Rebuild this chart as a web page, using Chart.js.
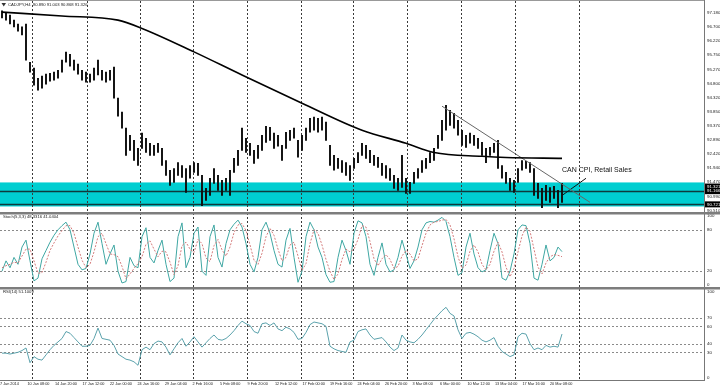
<!DOCTYPE html>
<html>
<head>
<meta charset="utf-8">
<script src="https://cdn.jsdelivr.net/npm/chart.js@4.4.1/dist/chart.umd.min.js"></script>
<style>
  html, body { margin: 0; padding: 0; background: #fff; }
</style>
</head>
<body>
<canvas id="c" width="720" height="388"></canvas>
<script>
// CADJPY H4 - price bars, 200 MA, support zone, Stoch and RSI panes

const symbolTitle = 'CADJPY,H4  90.890 91.003 90.868 91.326';
const stochTitle = 'Stoch(5,3,3) 48.3316 41.0404';
const rsiTitle = 'RSI(14) 51.1009';
const newsLabel = 'CAN CPI, Retail Sales';

const timeLabels = ['7 Jan 2014', '10 Jan 08:00', '14 Jan 20:00', '17 Jan 12:00', '22 Jan 00:00',
  '24 Jan 16:00', '29 Jan 04:00', '2 Feb 16:00', '5 Feb 08:00', '9 Feb 20:00', '12 Feb 12:00',
  '17 Feb 00:00', '19 Feb 16:00', '24 Feb 04:00', '26 Feb 20:00', '3 Mar 08:00', '6 Mar 00:00',
  '10 Mar 12:00', '13 Mar 04:00', '17 Mar 16:00', '20 Mar 08:00'];

const priceTicks = ['97.180', '96.700', '96.220', '95.750', '95.270', '94.800', '94.320', '93.850',
  '93.370', '92.890', '92.420', '91.940', '91.470', '90.990', '90.510'];
const priceMarks = ['91.321', '91.166', '90.721'];

const barHighs = [
  97.24, 97.17, 97.10, 96.93, 96.80, 96.70, 96.80, 95.51, 95.31, 94.97,
  95.04, 95.11, 95.14, 95.18, 95.24, 95.58, 95.85, 95.78, 95.58, 95.45,
  95.24, 95.18, 95.11, 95.31, 95.58, 95.24, 95.18, 95.24, 95.35, 94.30,
  93.83, 93.29, 93.05, 92.88, 92.61, 93.12, 92.95, 92.78, 92.71, 92.78,
  92.61, 92.20, 91.87, 91.93, 92.13, 92.03, 91.93, 92.03, 92.13, 92.10,
  91.70, 91.26, 91.60, 91.93, 91.70, 91.53, 91.60, 91.87, 92.27, 92.54,
  93.29, 92.95, 92.78, 92.54, 92.71, 93.05, 93.35, 93.32, 93.12, 93.05,
  92.71, 93.15, 93.22, 93.29, 92.88, 93.05, 93.29, 93.62, 93.66, 93.62,
  93.66, 93.49, 92.71, 92.37, 92.27, 92.20, 92.13, 92.03, 92.27, 92.47,
  92.78, 92.71, 92.54, 92.37, 92.31, 92.10, 92.03, 91.93, 91.70, 91.60,
  92.37, 91.60, 91.46, 91.80, 91.93, 92.20, 92.27, 92.47, 92.61, 93.05,
  93.55, 94.06, 93.89, 93.79, 93.55, 93.22, 93.05, 93.12, 93.05, 92.95,
  92.81, 92.61, 92.64, 92.78, 92.88, 92.03, 91.80, 91.60, 91.53, 91.93,
  92.20, 92.17, 92.13, 91.93, 91.43, 91.26, 91.36, 91.29, 91.33, 91.19,
  91.43
];
const barLows = [
  97.00, 96.93, 96.80, 96.70, 96.56, 96.43, 95.58, 95.18, 94.74, 94.57,
  94.64, 94.77, 94.87, 94.91, 94.97, 95.18, 95.51, 95.38, 95.24, 95.11,
  94.91, 94.84, 94.84, 94.91, 95.08, 94.91, 94.84, 94.91, 94.30, 93.69,
  93.29, 92.37, 92.54, 92.20, 92.03, 92.61, 92.47, 92.37, 92.37, 92.47,
  92.03, 91.70, 91.36, 91.46, 91.70, 91.63, 91.12, 91.60, 91.80, 91.70,
  90.68, 90.85, 91.02, 91.43, 91.19, 91.02, 91.19, 91.02, 91.80, 92.03,
  92.54, 92.47, 92.37, 92.10, 92.27, 92.54, 92.81, 92.88, 92.61, 92.68,
  92.20, 92.61, 92.88, 92.95, 92.31, 92.54, 92.88, 93.15, 93.22, 93.15,
  93.22, 92.88, 92.03, 91.87, 91.93, 91.80, 91.70, 91.53, 91.93, 92.13,
  92.37, 92.27, 92.13, 92.03, 91.97, 91.70, 91.60, 91.53, 91.26, 91.19,
  91.29, 91.09, 91.09, 91.43, 91.60, 91.80, 91.93, 92.13, 92.20, 92.61,
  92.88, 93.22, 93.38, 93.29, 93.05, 92.71, 92.64, 92.78, 92.71, 92.61,
  92.37, 92.13, 92.37, 92.47, 91.93, 91.60, 91.43, 91.19, 91.12, 91.46,
  91.87, 91.93, 91.80, 91.02, 90.92, 90.61, 90.85, 90.79, 90.92, 90.61,
  90.79
];

// moving average read at a few bars
const maIndex = [0, 15, 29, 35, 48, 60, 75, 90, 101, 108, 120, 126, 140];
const maValues = [97.20, 97.07, 96.93, 96.65, 95.86, 95.08, 94.13, 93.22, 92.78, 92.47, 92.34, 92.30, 92.27];

const trendIndex = [110, 147];
const trendValues = [94.03, 90.79];
const newsIndex = [140, 146];
const newsValues = [91.02, 91.60];

const zoneTop = 91.46;
const zoneBottom = 90.65;
const zoneLines = [91.166, 90.721];

const stochMain = [
  20, 35, 25, 40, 30, 55, 65, 35, 6, 10,
  38, 50, 62, 72, 80, 86, 91, 80, 55, 30,
  22, 24, 45, 75, 91, 60, 30, 45, 58, 20,
  3, 5, 40, 28, 25, 70, 83, 40, 32, 50,
  65, 30, 5, 10, 70, 90, 25, 40, 75, 84,
  20, 14, 70, 87, 40, 26, 60, 80, 88, 94,
  84, 60, 30, 19, 40, 80, 91, 75, 50, 30,
  26, 65, 82, 40, 4, 20, 70, 91, 80, 55,
  40, 15, 4, 5, 40, 65, 50, 30, 75, 93,
  90, 70, 30, 14, 40, 61, 30, 19, 22, 40,
  65, 45, 24, 35, 55, 80, 90, 92, 91, 94,
  98, 92, 70, 40, 14, 18, 55, 75, 45, 25,
  19, 22, 50, 75, 60, 10, 7, 20, 45, 80,
  87, 86, 60, 10, 7, 30, 58, 35, 40, 55,
  48.33
];
const stochSignal = [
  25, 28, 30, 33, 32, 42, 52, 52, 35, 17,
  18, 33, 50, 61, 71, 79, 86, 86, 75, 55,
  36, 25, 30, 48, 70, 75, 60, 45, 44, 41,
  27, 9, 16, 24, 31, 41, 59, 64, 52, 41,
  49, 48, 33, 15, 28, 57, 62, 52, 47, 66,
  60, 39, 34, 57, 66, 51, 42, 55, 76, 87,
  89, 79, 58, 36, 30, 46, 70, 82, 72, 52,
  35, 40, 58, 62, 42, 21, 31, 60, 80, 75,
  58, 37, 20, 8, 16, 37, 52, 48, 52, 66,
  86, 84, 63, 38, 28, 38, 44, 37, 24, 27,
  42, 50, 45, 35, 38, 57, 75, 87, 91, 92,
  94, 95, 87, 67, 41, 24, 29, 49, 58, 48,
  30, 22, 30, 49, 62, 48, 26, 12, 24, 48,
  71, 84, 78, 52, 26, 16, 32, 41, 44, 43,
  41.04
];
const stochLevels = [20, 80];
const stochTicks = [0, 20, 80, 100];

const rsiValues = [
  29, 29, 28, 29, 30, 32, 35, 18, 25, 22,
  21, 27, 33, 38, 42, 46, 54, 52, 47, 42,
  37, 37, 38, 46, 58, 46, 45, 44, 38, 28,
  25, 22, 21, 19, 15, 33, 36, 33, 40, 43,
  42, 36, 27, 34, 41, 46, 37, 42, 48, 42,
  36, 41, 46, 50, 45, 44, 46, 50, 55, 61,
  66, 63, 61, 54, 52, 63, 64, 61, 64, 57,
  55, 59, 57, 53, 45, 46, 53, 62, 65, 64,
  63, 60, 37, 34, 32, 31, 30, 42, 44, 54,
  56, 57, 50, 45, 46, 47, 42, 36, 32, 35,
  50, 44, 42, 41, 45, 50, 56, 62, 68, 73,
  78, 82, 75, 72, 56, 46, 52, 53, 51, 48,
  44, 42, 44, 47, 37, 31, 28, 25, 27, 48,
  52, 51, 40, 33, 35, 33, 38, 36, 37, 36,
  51.1
];
const rsiLevels = [30, 40, 60, 70];
const rsiTicks = [0, 30, 40, 60, 70, 100];

// week starts, in bar slots
const weekSeparators = [8, 21.75, 35, 48.25, 61.75, 75.25, 88.25, 101.75, 115.25, 128.75, 144.75];

const totalSlots = 176;      // bars + empty chart shift on the right
const labelStep = 6.875;     // slots between time labels

const font = 'Liberation Sans, Arial, sans-serif';
const txt = '#222';

const atBar = (idx, vals) => idx.map((k, j) => ({ x: k + 0.5, y: vals[j] }));
const series = vals => vals.map((v, i) => ({ x: i + 0.5, y: v }));

function fitRight(s) {
  s.width = 16;
  s.paddingTop = 0;
  s.paddingBottom = 0;
}

function hline(ctx, a, scale, v) {
  const py = Math.round(scale.getPixelForValue(v)) + 0.5;
  ctx.beginPath();
  ctx.moveTo(a.left, py);
  ctx.lineTo(a.right, py);
  ctx.stroke();
}

const mtDecor = {
  id: 'mtDecor',
  beforeDatasetsDraw(chart) {
    const ctx = chart.ctx;
    const a = chart.chartArea;
    const xs = chart.scales.x;
    const y = chart.scales.y;
    ctx.save();
    // support zone
    const t = y.getPixelForValue(zoneTop);
    const b = y.getPixelForValue(zoneBottom);
    ctx.fillStyle = '#00CED1';
    ctx.fillRect(a.left, t, a.right - a.left, b - t);
    ctx.strokeStyle = '#0e3a3c';
    ctx.lineWidth = 1.5;
    zoneLines.forEach(v => hline(ctx, a, y, v));

    // indicator levels
    ctx.setLineDash([2, 2]);
    ctx.lineWidth = 1;
    ctx.strokeStyle = '#8a8a8a';
    stochLevels.forEach(v => hline(ctx, a, chart.scales.ys, v));
    rsiLevels.forEach(v => hline(ctx, a, chart.scales.yr, v));

    // weekly separators
    ctx.strokeStyle = '#3a3a3a';
    for (const v of weekSeparators) {
      const px = Math.round(xs.getPixelForValue(v)) + 0.5;
      ctx.beginPath();
      ctx.moveTo(px, a.top + 1);
      ctx.lineTo(px, a.bottom);
      ctx.stroke();
    }
    ctx.restore();
  },
  afterDatasetsDraw(chart) {
    const ctx = chart.ctx;
    const a = chart.chartArea;
    const xs = chart.scales.x;
    const y = chart.scales.y;
    const ys = chart.scales.ys;
    const yr = chart.scales.yr;
    ctx.save();

    // pane separators and frame
    ctx.fillStyle = '#7d7d7d';
    ctx.fillRect(0, ys.top - 1, chart.width, 2.5);
    ctx.fillRect(0, yr.top - 1, chart.width, 2.5);
    ctx.fillStyle = '#999';
    ctx.fillRect(0, 0, a.right, 1);

    // price boxes on the axis
    ctx.font = '4.4px ' + font;
    ctx.textBaseline = 'middle';
    ctx.textAlign = 'left';
    priceMarks.forEach(m => {
      const py = y.getPixelForValue(parseFloat(m));
      ctx.fillStyle = '#000';
      ctx.fillRect(a.right + 1, py - 3, 16, 6);
      ctx.fillStyle = '#fff';
      ctx.fillText(m, a.right + 3, py);
    });

    // pane titles
    ctx.fillStyle = '#333';
    ctx.beginPath();
    ctx.moveTo(1.5, 3);
    ctx.lineTo(6, 3);
    ctx.lineTo(3.75, 6.5);
    ctx.closePath();
    ctx.fill();
    ctx.fillStyle = txt;
    ctx.font = '4.2px ' + font;
    ctx.fillText(symbolTitle, 8, 5);
    ctx.fillText(stochTitle, 3, ys.top + 4);
    ctx.fillText(rsiTitle, 3, yr.top + 4);

    // news note
    ctx.font = '7px ' + font;
    ctx.fillStyle = '#111';
    ctx.fillText(newsLabel, xs.getPixelForValue(newsIndex[0] + 0.5), y.getPixelForValue(91.87));
    ctx.restore();
  }
};

const axisTicks = { padding: 3, autoSkip: false, color: txt, font: { family: font, size: 4.4 } };

new Chart(document.getElementById('c'), {
  type: 'bar',
  data: {
    datasets: [
      {
        type: 'line', data: atBar(maIndex, maValues), yAxisID: 'y',
        borderColor: '#000', borderWidth: 1.6, pointRadius: 0, cubicInterpolationMode: 'monotone'
      },
      {
        type: 'line', data: atBar(trendIndex, trendValues), yAxisID: 'y',
        borderColor: '#666', borderWidth: 1, pointRadius: 0
      },
      {
        type: 'line', data: atBar(newsIndex, newsValues), yAxisID: 'y',
        borderColor: '#111', borderWidth: 1, pointRadius: 0
      },
      {
        type: 'bar', data: barLows.map((lo, i) => ({ x: i + 0.5, y: [lo, barHighs[i]] })), yAxisID: 'y',
        backgroundColor: '#111', barThickness: 1.3
      },
      {
        type: 'line', data: series(stochSignal), yAxisID: 'ys',
        borderColor: '#d47c7c', borderWidth: 1, borderDash: [2, 1.5], pointRadius: 0
      },
      {
        type: 'line', data: series(stochMain), yAxisID: 'ys',
        borderColor: '#3fa7a3', borderWidth: 1, pointRadius: 0
      },
      {
        type: 'line', data: series(rsiValues), yAxisID: 'yr',
        borderColor: '#5ba2ac', borderWidth: 1, pointRadius: 0
      }
    ]
  },
  options: {
    responsive: false,
    animation: false,
    events: [],
    layout: { padding: 0 },
    plugins: {
      legend: { display: false },
      tooltip: { enabled: false }
    },
    scales: {
      x: {
        type: 'linear', min: 0, max: totalSlots, offset: false,
        grid: { display: false, drawTicks: false },
        border: { color: '#777' },
        ticks: {
          autoSkip: false, maxRotation: 0, align: 'start', padding: 1.5,
          color: txt, font: { family: font, size: 3.8 },
          callback: (v, i) => timeLabels[i]
        },
        afterBuildTicks: s => { s.ticks = timeLabels.map((t, k) => ({ value: k * labelStep })); },
        afterFit: s => { s.height = 8; s.paddingLeft = 0; s.paddingRight = 0; }
      },
      y: {
        position: 'right', stack: 'pane', stackWeight: 213, min: 90.43, max: 97.608,
        grid: { display: false, drawTicks: false },
        border: { color: '#777' },
        ticks: Object.assign({}, axisTicks, { callback: (v, i) => priceTicks[i] }),
        afterBuildTicks: s => { s.ticks = priceTicks.map(t => ({ value: parseFloat(t) })); },
        afterFit: fitRight
      },
      ys: {
        position: 'right', stack: 'pane', stackWeight: 75, min: -4.3, max: 104.3,
        grid: { display: false, drawTicks: false },
        border: { color: '#777' },
        ticks: axisTicks,
        afterBuildTicks: s => { s.ticks = stochTicks.map(v => ({ value: v })); },
        afterFit: fitRight
      },
      yr: {
        position: 'right', stack: 'pane', stackWeight: 92, min: -2, max: 104.3,
        grid: { display: false, drawTicks: false },
        border: { color: '#777' },
        ticks: axisTicks,
        afterBuildTicks: s => { s.ticks = rsiTicks.map(v => ({ value: v })); },
        afterFit: fitRight
      }
    }
  },
  plugins: [mtDecor]
});
</script>
</body>
</html>
